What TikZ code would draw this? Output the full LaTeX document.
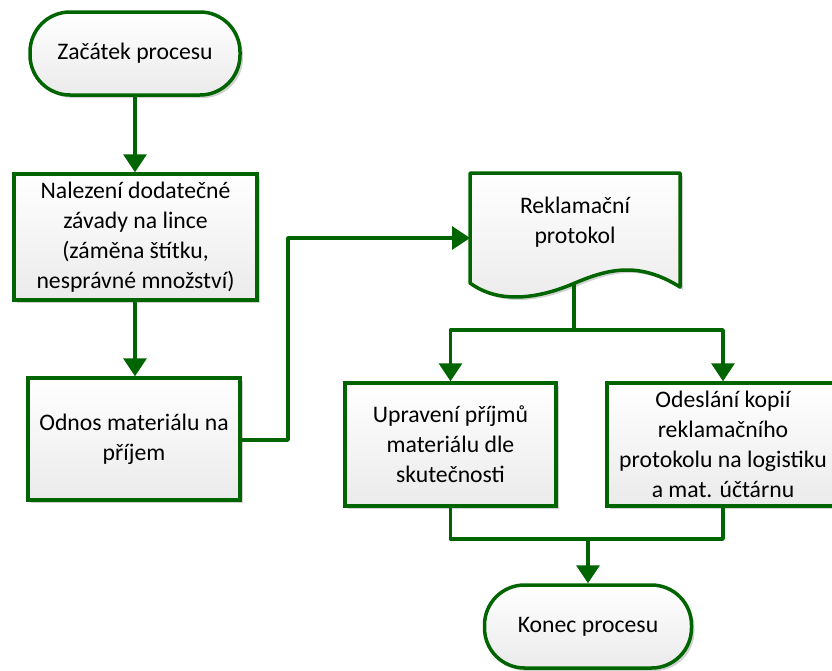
\documentclass[tikz,border=0pt]{standalone}
\usepackage{fontspec}
\setmainfont{Carlito}
\usetikzlibrary{arrows.meta,shadows,calc}
\definecolor{fgreen}{RGB}{0,100,0}
\tikzset{
  base/.style={draw=fgreen, line width=3.5pt, top color=white, bottom color=black!8,
    drop shadow={shadow xshift=3pt, shadow yshift=-3pt, fill=black!18, opacity=1},
    align=center, font=\fontsize{23.7}{30}\selectfont, text=black, inner sep=2pt},
  procbox/.style={base, rectangle},
  termbox/.style={base, rectangle, rounded corners=40pt},
  conn/.style={draw=fgreen, line width=3.5pt, line join=round},
  arr/.style={conn, -{Triangle[length=18pt,width=23pt]}},
}
\begin{document}
\begin{tikzpicture}[x=1pt,y=-1pt]
\useasboundingbox (0,0) rectangle (832,670);
% nodes
\node[termbox, minimum width=210pt, minimum height=83pt] (start) at (135,53.5) {Začátek procesu};
\node[procbox, minimum width=243pt, minimum height=126pt] (find) at (135.5,237) {Nalezení dodatečné\\závady na lince\\(záměna štítku,\\nesprávné množství)};
\node[procbox, minimum width=212pt, minimum height=122pt] (odnos) at (134,439) {Odnos materiálu na\\příjem};
% document shape
\path[draw=fgreen, line width=3.5pt, line join=round, top color=white, bottom color=black!8,
      drop shadow={shadow xshift=3pt, shadow yshift=-3pt, fill=black!18, opacity=1}]
  (470,173) -- (680,173) -- (680,287)
  .. controls (640,262) and (610,268) .. (575,283)
  .. controls (540,298) and (500,305) .. (470,283) -- cycle;
\coordinate (docin) at (470,238);
\coordinate (docout) at (574,283);
\node[align=center, font=\fontsize{23.7}{30}\selectfont, inner sep=0pt] (doc) at (575,222) {Reklamační\\protokol};
\node[procbox, minimum width=211pt, minimum height=123pt] (uprav) at (450.5,444.5) {Upravení příjmů\\materiálu dle\\skutečnosti};
\node[procbox, minimum width=232pt, minimum height=123pt] (odesl) at (723,444.5) {Odeslání kopií\\reklamačního\\protokolu na logistiku\\a mat. účtárnu};
\node[termbox, minimum width=207pt, minimum height=83pt] (konec) at (588,626.5) {Konec procesu};
% connectors
\coordinate (split) at (574,330);
\coordinate (join) at (588,539);
\draw[arr] (start.south) -- (find.north -| start.south);
\draw[arr] (find.south -| start.south) -- (odnos.north -| start.south);
\draw[arr] (odnos.east |- 0,440) -- (288,440) -- (288,238) -- (docin);
\draw[conn] (docout) -- (split);
\draw[arr] (split) -| (uprav.north);
\draw[arr] (split) -| (odesl.north);
\draw[conn] (uprav.south) |- (join);
\draw[conn] (odesl.south) |- (join);
\draw[arr] (join) -- (konec.north);
\end{tikzpicture}
\end{document}
